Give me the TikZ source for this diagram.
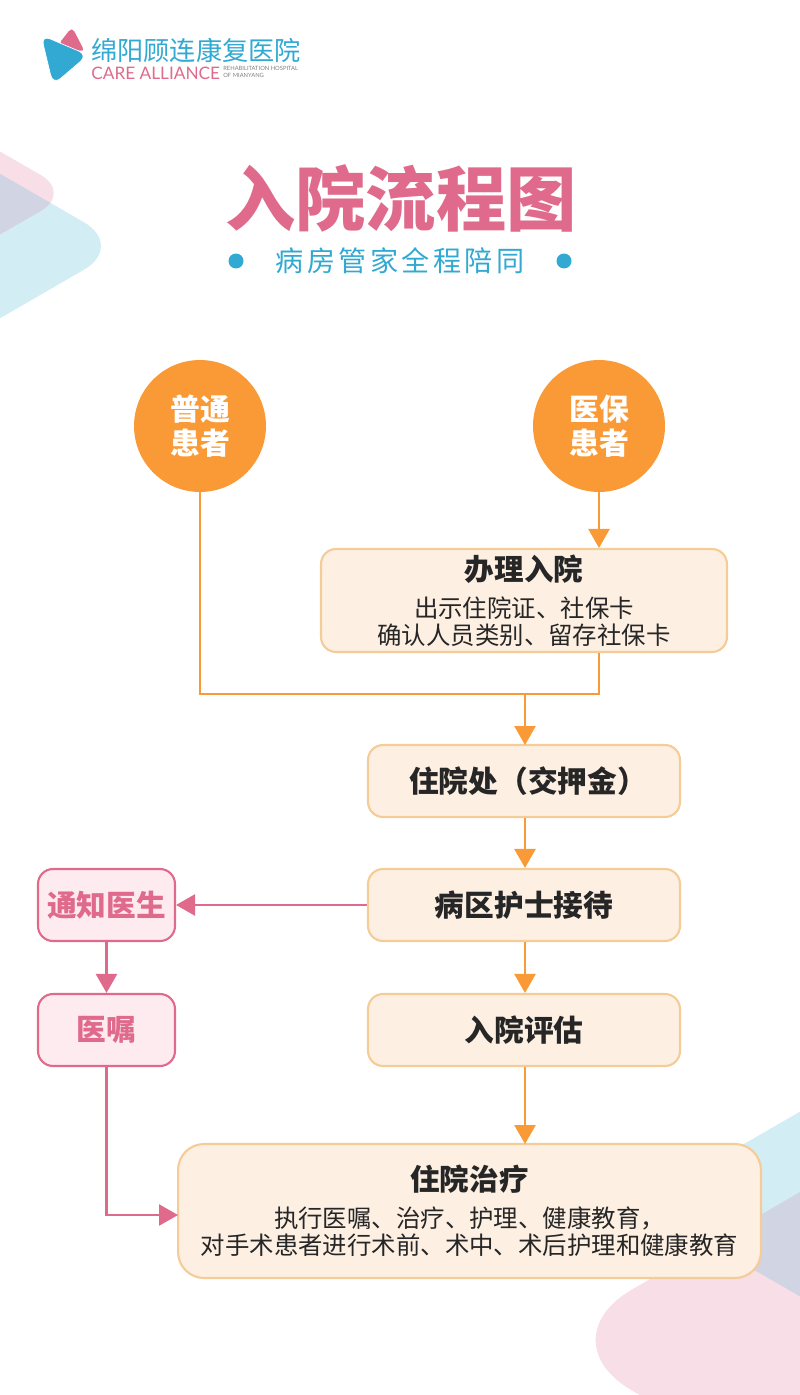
\documentclass[tikz,border=0pt]{standalone}
\usepackage{fontspec}
\setmainfont{Noto Sans CJK SC}
\newfontfamily\latinfont{Lato}
\newfontfamily\titlefont{Noto Sans CJK SC Black}
\newfontfamily\spacedfont[LetterSpace=12]{Noto Sans CJK SC}
\usetikzlibrary{arrows.meta}

\definecolor{carepink}{HTML}{DF6A8B}
\definecolor{careblue}{HTML}{32A9D2}
\definecolor{careorange}{HTML}{FA9A36}
\definecolor{boxfill}{HTML}{FDF0E3}
\definecolor{boxline}{HTML}{F5CB98}
\definecolor{notefill}{HTML}{FDEBF0}
\definecolor{bgpink}{HTML}{F8DFE7}
\definecolor{bgblue}{HTML}{D3EDF5}
\definecolor{bggray}{HTML}{D1D4E2}

\tikzset{
    patient/.style={circle, fill=careorange, text=white, minimum size=2.64cm, inner sep=0pt,
        align=center, font=\fontsize{17}{19.5}\bfseries\selectfont},
    stepbox/.style={draw=boxline, fill=boxfill, line width=1.2pt, rounded corners=0.3cm,
        minimum width=6.24cm, minimum height=1.44cm, inner sep=0pt, align=center,
        text=black!85, font=\fontsize{16.9}{20}\bfseries\selectfont},
    detailbox/.style={stepbox, font=\fontsize{16.9}{15.4}\bfseries\selectfont},
    notebox/.style={draw=carepink, fill=notefill, line width=1.2pt, rounded corners=0.3cm,
        minimum width=2.74cm, minimum height=1.44cm, inner sep=0pt,
        text=carepink, font=\fontsize{16.9}{20}\bfseries\selectfont},
    orangeline/.style={careorange, line width=1.4pt, -{Triangle[length=0.38cm, width=0.42cm]}},
    pinkline/.style={carepink, line width=1.4pt, -{Triangle[length=0.38cm, width=0.42cm]}},
}
\newcommand{\boxhead}[1]{\fontsize{16.8}{15.4}\bfseries\selectfont #1}
\newcommand{\boxbody}[1]{\fontsize{13.9}{15.4}\mdseries\selectfont #1}

\begin{document}
\begin{tikzpicture}[x=0.02cm, y=-0.02cm]
    \useasboundingbox (0,0) rectangle (800,1395);
    \clip (0,0) rectangle (800,1395);

    % Background shapes, upper left
    \def\leftblue{(-150,87) -- (125,246) -- (-150,405) -- cycle}
    \def\leftpink{(-150,65) -- (72,193) -- (-150,321) -- cycle}
    \fill[bgblue, rounded corners=0.95cm] \leftblue;
    \fill[bgpink, rounded corners=0.72cm] \leftpink;
    \begin{scope}
        \clip[rounded corners=0.95cm] \leftblue;
        \fill[bggray, rounded corners=0.72cm] \leftpink;
    \end{scope}

    % Background shapes, lower right
    \def\rightblue{(950,1025) -- (640,1204) -- (950,1383) -- cycle}
    \def\rightpink{(1000,1076) -- (545,1340) -- (1000,1604) -- cycle}
    \fill[bgblue, rounded corners=0.6cm] \rightblue;
    \fill[bgpink, rounded corners=2cm] \rightpink;
    \begin{scope}
        \clip[rounded corners=0.6cm] \rightblue;
        \fill[bggray, rounded corners=2cm] \rightpink;
    \end{scope}

    % Logo
    \fill[carepink, rounded corners=0.1cm] (72,27) -- (58,45) -- (85,52) -- cycle;
    \filldraw[careblue, draw=white, line width=0.4pt, rounded corners=0.2cm] (41,35) -- (88,55) -- (53,85) -- cycle;
    \node[anchor=west, inner sep=0pt, text=careblue, font=\fontsize{14.9}{16}\selectfont] (logocn) at (91,50) {绵阳顾连康复医院};
    \node[anchor=west, inner sep=0pt, text=carepink, font=\fontsize{9.8}{12}\latinfont] (logoen) at (91,73) {CARE ALLIANCE};
    \node[anchor=west, inner sep=0pt, align=left, text=black!50, font=\fontsize{3.3}{4.4}\latinfont] (logosub) at (223,72) {REHABILITATION HOSPITAL\\OF MIANYANG};

    % Title
    \node[text=carepink, inner sep=0pt, font=\fontsize{40}{41}\titlefont] (title) at (401,198) {入院流程图};
    \node[text=careblue, inner sep=0pt, font=\fontsize{16}{17}\spacedfont] (subtitle) at (400,261) {病房管家全程陪同};
    \fill[careblue] (236,261) circle (0.15cm);
    \fill[careblue] (564,261) circle (0.15cm);

    % Flow nodes
    \node[patient] (normal) at (200,426) {普通\\患者};
    \node[patient] (insured) at (599,426) {医保\\患者};
    \node[detailbox, minimum width=8.12cm, minimum height=2.06cm] (admit) at (524,600.5)
        {\boxhead{办理入院}\\[0.2cm]\boxbody{出示住院证、社保卡}\\\boxbody{确认人员类别、留存社保卡}};
    \node[stepbox] (deposit) at (524,781) {\hspace*{0.16cm}住院处（交押金）};
    \node[stepbox] (nurse) at (524,905) {病区护士接待};
    \node[stepbox] (assess) at (524,1030) {入院评估};
    \node[detailbox, minimum width=11.66cm, minimum height=2.68cm, rounded corners=0.52cm] (treat) at (469.5,1211)
        {\boxhead{住院治疗}\\[0.2cm]\boxbody{执行医嘱、治疗、护理、健康教育，}\\\boxbody{对手术患者进行术前、术中、术后护理和健康教育}};
    \node[notebox] (doctor) at (106.5,905) {通知医生};
    \node[notebox] (orders) at (106.5,1030) {医嘱};

    % Helper points on the connectors
    \coordinate (joinleft) at (normal |- 0,694);
    \coordinate (joinright) at (insured |- 0,694);
    \coordinate (joinmid) at (525,694);
    \coordinate (depositin) at (525,745);
    \coordinate (treatin) at (178,1215);
    \coordinate (treattop) at (525,1144);

    % Connectors
    \draw[orangeline] (insured) -- (insured |- admit.north);
    \draw[careorange, line width=1.4pt] (normal) -- (joinleft) -- (joinright) -- (insured |- admit.south);
    \draw[orangeline] (joinmid) -- (depositin);
    \foreach \from/\to in {deposit/nurse, nurse/assess} {
        \draw[orangeline] ([xshift=0.02cm]\from.south) -- ([xshift=0.02cm]\to.north);
    }
    \draw[orangeline] ([xshift=0.02cm]assess.south) -- (treattop);
    \draw[pinkline] (nurse.west) -- (doctor.east);
    \draw[pinkline] (doctor) -- (orders);
    \draw[pinkline] (orders) |- (treatin);
\end{tikzpicture}
\end{document}
